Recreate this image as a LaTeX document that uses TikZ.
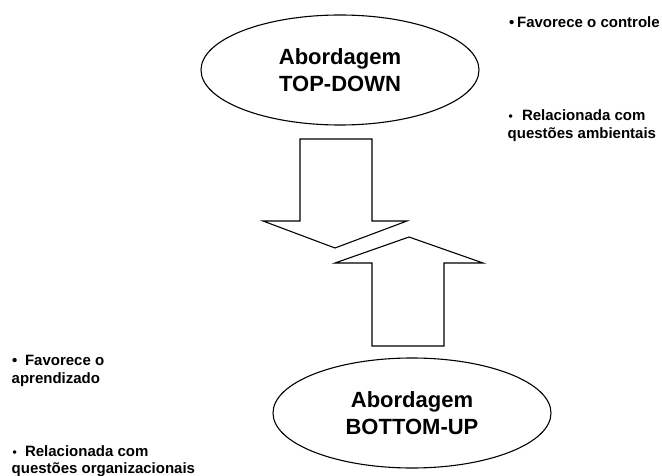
\documentclass[tikz,border=0pt]{standalone}
\usepackage{fontspec}
\setmainfont{Liberation Sans}
\usetikzlibrary{shapes.geometric}
\newcommand{\smallbullet}{{\fontsize{12}{12}\selectfont\textbullet}}
\begin{document}
\begin{tikzpicture}[x=1pt,y=-1pt,
  approach/.style={ellipse,draw,line width=1.1pt,minimum width=278pt,minimum height=110pt,
    align=center,font=\fontsize{22}{27}\selectfont\bfseries},
  note/.style={anchor=base west,inner sep=0pt,font=\fontsize{15}{18}\selectfont\bfseries},
  blockarrow/.style={draw,line width=1.1pt,line join=miter,fill=white}]
\useasboundingbox (0,0) rectangle (662,476);

% the two approaches
\node[approach] (topdown) at (340,70) {Abordagem\\TOP-DOWN};
\node[approach] (bottomup) at (412,413) {Abordagem\\BOTTOM-UP};

% block arrow pointing down (top-down influence)
\draw[blockarrow] (300,139) -- (300,221) -- (263,221) -- (335,248) -- (407,221)
  -- (372,221) -- (372,139) -- cycle;
% block arrow pointing up (bottom-up influence)
\draw[blockarrow] (372,346) -- (372,263) -- (335,263) -- (409,237) -- (483,263)
  -- (444,263) -- (444,346) -- cycle;

% notes on the top-down approach
\node[note] (ctrl) at (509,28) {\textbullet\hspace{2.7pt}Favorece o controle};
\node[note] (amb1) at (508.4,121) {\smallbullet\hspace{9.2pt}Relacionada com};
\node[note] (amb2) at (507.5,139) {questões ambientais};

% notes on the bottom-up approach
\node[note] (apr1) at (12,365) {\textbullet\hspace{7.6pt}Favorece o};
\node[note] (apr2) at (11.5,383) {aprendizado};
\node[note] (org1) at (12.4,456) {\smallbullet\hspace{8.2pt}Relacionada com};
\node[note] (org2) at (11.5,473) {questões organizacionais};
\end{tikzpicture}
\end{document}
